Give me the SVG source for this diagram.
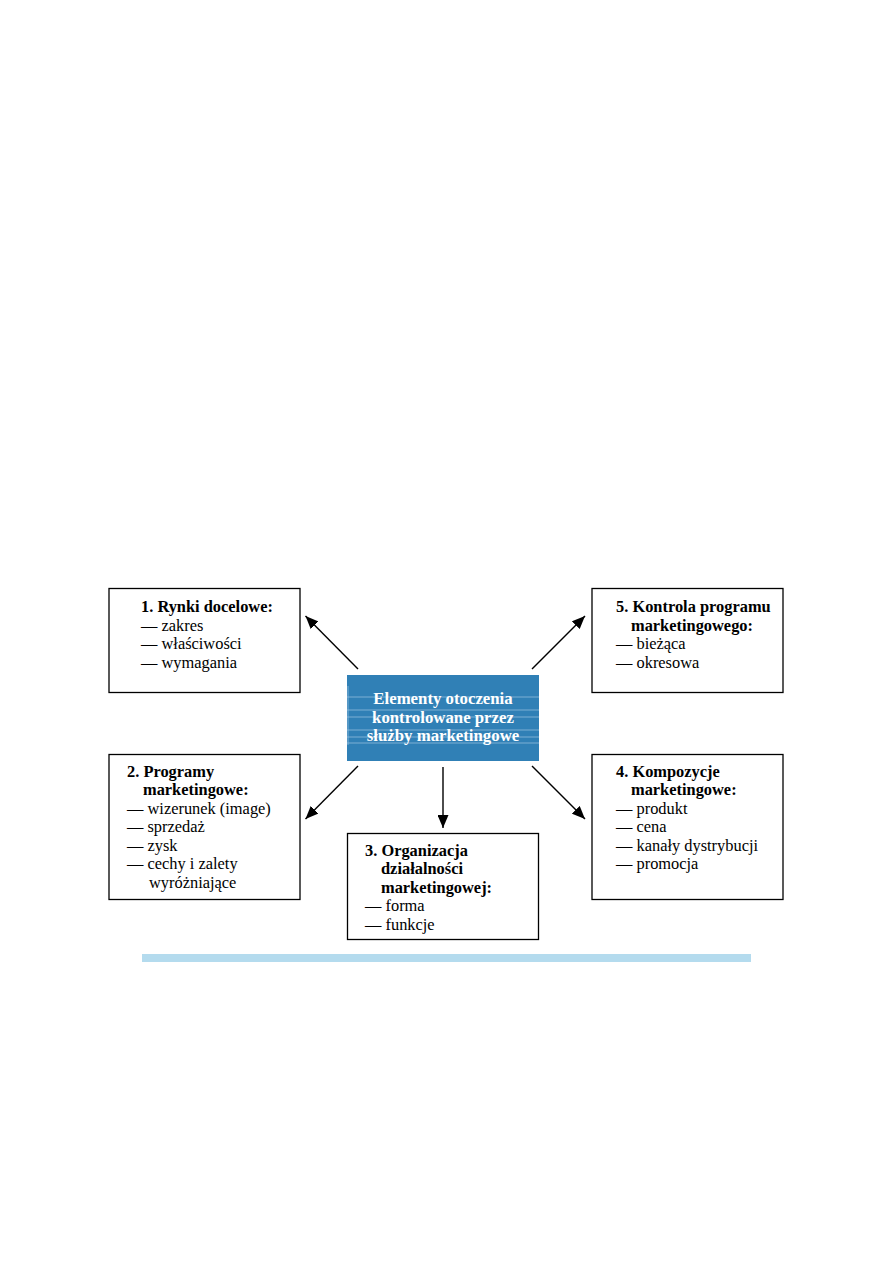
<svg xmlns="http://www.w3.org/2000/svg" width="893" height="1263" viewBox="0 0 893 1263">
<style>
.box{fill:#fff;stroke:#000;stroke-width:1.3}
.t{font-family:"Liberation Serif","Times New Roman",serif;font-size:16.4px;fill:#000}
.b{font-weight:bold}
.ct{font-family:"Liberation Serif","Times New Roman",serif;font-size:16.8px;font-weight:bold;fill:#fff;text-anchor:middle}
.con{stroke:#000;stroke-width:1.4;fill:none;marker-end:url(#ah)}
.fl{stroke:#8fbbdc;stroke-width:0.8}
</style>
<defs>
<marker id="ah" viewBox="0 0 13 11" refX="13" refY="5.5" markerWidth="13" markerHeight="11" markerUnits="userSpaceOnUse" orient="auto">
<path d="M0,0 L13,5.5 L0,11 z" fill="#000"/>
</marker>
</defs>
<rect width="893" height="1263" fill="#fff"/>
<g id="connectors">
<line class="con" x1="358" y1="669" x2="305.5" y2="616"/>
<line class="con" x1="532" y1="669" x2="585" y2="616"/>
<line class="con" x1="358" y1="766" x2="305.5" y2="819"/>
<line class="con" x1="532" y1="766" x2="585" y2="819"/>
<line class="con" x1="443" y1="767" x2="443" y2="828"/>
</g>
<g id="center">
<rect x="347" y="675" width="192" height="86" fill="#3080b6"/>
<line class="fl" x1="347" y1="697" x2="539" y2="697"/>
<line class="fl" x1="347" y1="710" x2="539" y2="710"/>
<line class="fl" x1="347" y1="717" x2="539" y2="717"/>
<line class="fl" x1="347" y1="730" x2="539" y2="730"/>
<line class="fl" x1="347" y1="737" x2="539" y2="737"/>
<line class="fl" x1="347" y1="743" x2="539" y2="743"/>
<line class="fl" x1="348" y1="686" x2="348" y2="745"/>
<text class="ct" x="443" y="704">Elementy otoczenia</text>
<text class="ct" x="443" y="723">kontrolowane przez</text>
<text class="ct" x="443" y="741">służby marketingowe</text>
</g>
<g id="n1">
<rect class="box" x="109" y="588.5" width="191" height="104"/>
<text class="t b" x="141" y="612">1. Rynki docelowe:</text>
<text class="t" x="141" y="630.5">— zakres</text>
<text class="t" x="141" y="649">— właściwości</text>
<text class="t" x="141" y="667.5">— wymagania</text>
</g>
<g id="n5">
<rect class="box" x="592" y="588.5" width="191" height="104"/>
<text class="t b" x="616" y="612">5. Kontrola programu</text>
<text class="t b" x="631" y="630.5">marketingowego:</text>
<text class="t" x="616" y="649">— bieżąca</text>
<text class="t" x="616" y="667.5">— okresowa</text>
</g>
<g id="n2">
<rect class="box" x="109" y="754.5" width="191" height="145"/>
<text class="t b" x="127" y="776.5">2. Programy</text>
<text class="t b" x="143" y="795">marketingowe:</text>
<text class="t" x="127" y="813.5">— wizerunek (image)</text>
<text class="t" x="127" y="832">— sprzedaż</text>
<text class="t" x="127" y="850.5">— zysk</text>
<text class="t" x="127" y="869">— cechy i zalety</text>
<text class="t" x="149" y="887.5">wyróżniające</text>
</g>
<g id="n4">
<rect class="box" x="592" y="754.5" width="191" height="145"/>
<text class="t b" x="616" y="776.5">4. Kompozycje</text>
<text class="t b" x="631" y="795">marketingowe:</text>
<text class="t" x="616" y="813.5">— produkt</text>
<text class="t" x="616" y="832">— cena</text>
<text class="t" x="616" y="850.5">— kanały dystrybucji</text>
<text class="t" x="616" y="869">— promocja</text>
</g>
<g id="n3">
<rect class="box" x="347.5" y="833.5" width="191" height="106"/>
<text class="t b" x="365" y="855.5">3. Organizacja</text>
<text class="t b" x="381" y="874">działalności</text>
<text class="t b" x="381" y="892.5">marketingowej:</text>
<text class="t" x="365" y="911">— forma</text>
<text class="t" x="365" y="929.5">— funkcje</text>
</g>
<rect id="bar" x="142" y="954" width="609" height="8" fill="#b4dbee"/>
</svg>
